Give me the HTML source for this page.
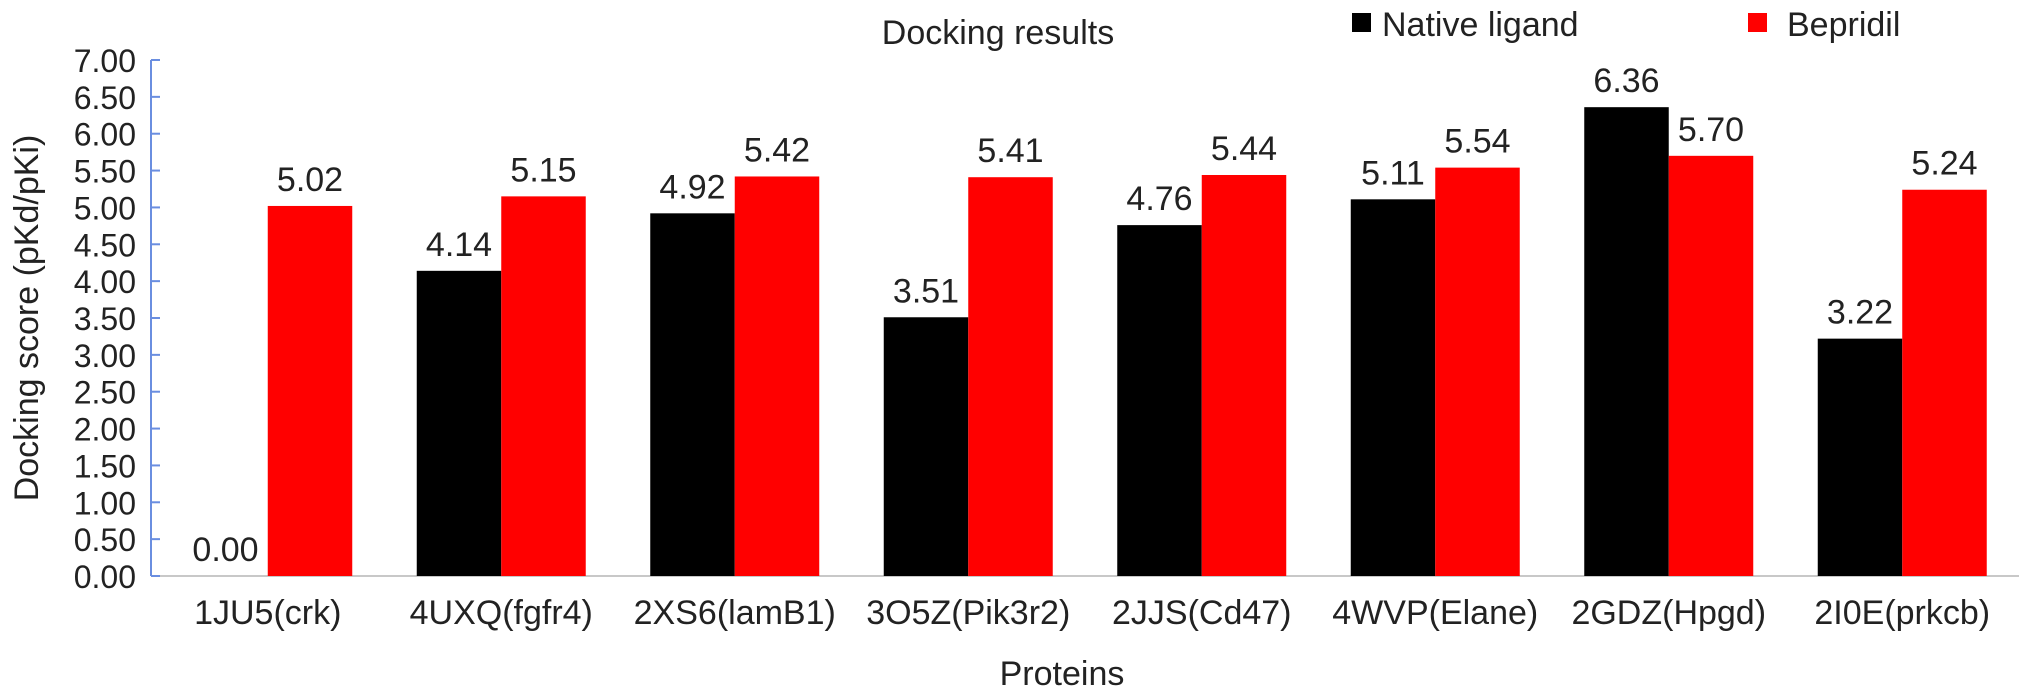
<!DOCTYPE html>
<html><head><meta charset="utf-8"><style>
html,body{margin:0;padding:0;background:#fff;}
svg{display:block;font-family:"Liberation Sans",Arial,sans-serif;}
</style></head><body>
<svg id="chart" width="2032" height="698" viewBox="0 0 2032 698">
<text x="998" y="44" font-size="34" text-anchor="middle" fill="#222">Docking results</text>
<rect x="1352" y="13" width="19" height="19" fill="#000"/>
<text x="1382" y="36" font-size="34" fill="#222">Native ligand</text>
<rect x="1748" y="13" width="19" height="19" fill="#ff0000"/>
<text x="1787" y="36" font-size="34" fill="#222">Bepridil</text>
<text transform="translate(38,318) rotate(-90)" font-size="34" text-anchor="middle" fill="#222">Docking score (pKd/pKi)</text>
<text x="1062" y="685" font-size="34" text-anchor="middle" fill="#222">Proteins</text>
<g id="marks"></g>
</svg>
<script>
const categories = ["1JU5(crk)","4UXQ(fgfr4)","2XS6(lamB1)","3O5Z(Pik3r2)","2JJS(Cd47)","4WVP(Elane)","2GDZ(Hpgd)","2I0E(prkcb)"];
const nativeValues = [0.00,4.14,4.92,3.51,4.76,5.11,6.36,3.22];
const bepridilValues = [5.02,5.15,5.42,5.41,5.44,5.54,5.70,5.24];
const yTicks = [0,0.5,1,1.5,2,2.5,3,3.5,4,4.5,5,5.5,6,6.5,7];

const NS="http://www.w3.org/2000/svg";
const g=document.getElementById('marks');
const x0=151, groupW=233.5, barW=84.5, yBase=576, yTop=60, yMax=7;
function yScale(v){return yBase-(v/yMax)*(yBase-yTop);}
function xCenter(i){return x0+groupW*(i+0.5);}
function mk(tag,attrs){const e=document.createElementNS(NS,tag);for(const k in attrs)e.setAttribute(k,attrs[k]);g.appendChild(e);return e;}

let xl=mk('line',{x1:x0,y1:yBase,x2:x0+groupW*categories.length,y2:yBase,stroke:'#c8c8c8','stroke-width':2});


let yl=mk('line',{x1:x0,y1:yTop,x2:x0,y2:yBase,stroke:'#6a8ee0','stroke-width':2});


yTicks.forEach(t=>{
  const y=yScale(t);
  const tk=mk('line',{x1:x0,y1:y,x2:x0+9,y2:y,stroke:'#6a8ee0','stroke-width':2});
  
  
  const tl=mk('text',{x:136,y:y+12,'font-size':32,'text-anchor':'end',fill:'#222'});
  tl.textContent=t.toFixed(2);
  
  
});
categories.forEach((c,i)=>{
  const cx=xCenter(i);
  const nv=nativeValues[i], bv=bepridilValues[i];
  const nb=mk('rect',{x:cx-barW,y:yScale(nv),width:barW,height:yBase-yScale(nv),fill:'#000'});
  
  
  const rb=mk('rect',{x:cx,y:yScale(bv),width:barW,height:yBase-yScale(bv),fill:'#ff0000'});
  
  
  const nl=mk('text',{x:cx-barW/2,y:yScale(nv)-15,'font-size':34,'text-anchor':'middle',fill:'#222'});
  nl.textContent=nv.toFixed(2);
  
  
  const bl=mk('text',{x:cx+barW/2,y:yScale(bv)-15,'font-size':34,'text-anchor':'middle',fill:'#222'});
  bl.textContent=bv.toFixed(2);
  
  
  const cl=mk('text',{x:cx,y:624,'font-size':34,'text-anchor':'middle',fill:'#222'});
  cl.textContent=c;
  
  
});
</script>
</body></html>
